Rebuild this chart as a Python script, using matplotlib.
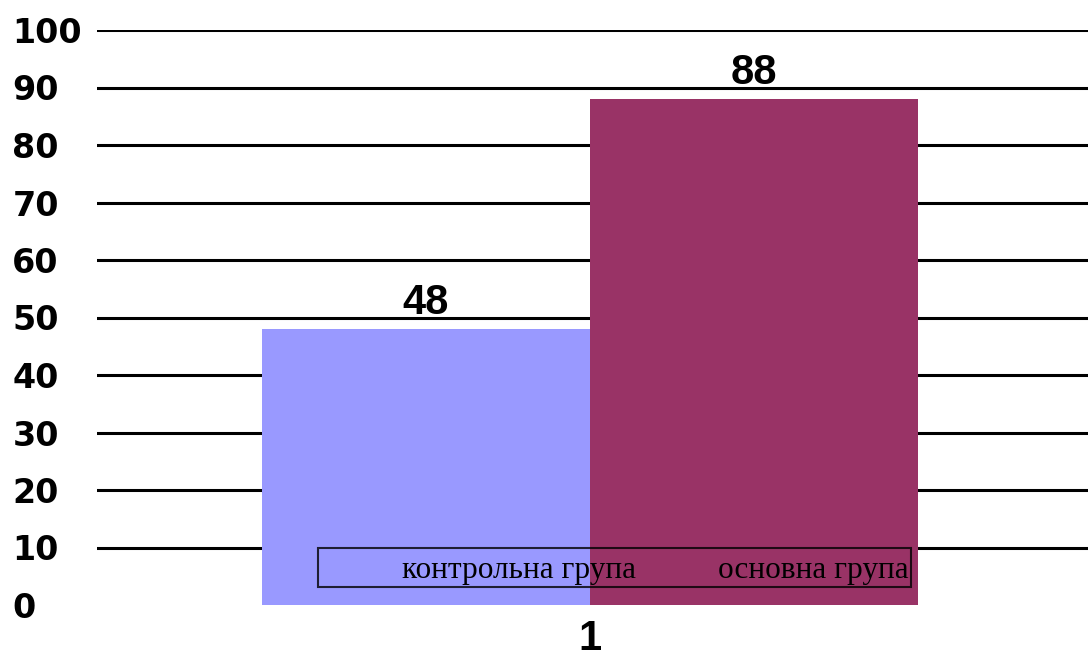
import numpy as np
import matplotlib
matplotlib.use("Agg")
import matplotlib.pyplot as plt

#//==\\--//==\\--//==\\--//==\\--//==\\--//==\\--//==\\--//==\\#

categories = ["1"]
groups     = ["контрольна група", "основна група"]
values     = [48, 88]
colors     = ["#9999FF", "#993366"]
yticks     = [0, 10, 20, 30, 40, 50, 60, 70, 80, 90, 100]

#//==\\--//==\\--//==\\--//==\\--//==\\--//==\\--//==\\--//==\\#

fig = plt.figure(figsize=(10.88, 6.62), dpi=100)
ax  = fig.add_axes([97/1088, 1-605/662, 991/1088, 575/662])

x     = np.arange(len(categories))
width = 0.331

# gridlines behind the bars
ax.set_axisbelow(True)
ax.yaxis.grid(True, color="black", linewidth=2.2)

for i, (grp, val, col) in enumerate(zip(groups, values, colors)):
    pos  = x + (i - 0.5) * width
    bars = ax.bar(pos, [val], width, color=col, label=grp, zorder=2)
    ax.annotate(str(val), (pos[0], val), xytext=(0, 4), textcoords="offset points",
                ha="center", va="bottom", fontsize=30, fontweight="bold",
                family="Liberation Sans", zorder=5)

ax.set_xlim(-0.4975, 0.5025)
ax.set_ylim(0, 100)
ax.set_yticks(yticks)
ax.set_xticks(x)
ax.set_xticklabels(categories, fontsize=30, fontweight="bold", family="Liberation Sans")
ax.tick_params(axis="x", length=0, pad=10)
ax.tick_params(axis="y", length=0, pad=61)
for lab in ax.get_yticklabels():
    lab.set_ha("left")
    lab.set_fontsize(24)
    lab.set_fontweight("bold")

# no gridline at zero
ax.yaxis.get_gridlines()[0].set_visible(False)

for s in ax.spines.values():
    s.set_visible(False)

# legend box sits inside the plot, no fill (handles vanish into the bars)
leg = ax.legend(loc="lower left", bbox_to_anchor=(0.223, 0.031),
                ncol=2, borderaxespad=0, fancybox=False,
                frameon=True, prop={"family": "Liberation Serif", "size": 22.5},
                handlelength=1.85, handleheight=1.3, handletextpad=0.76,
                borderpad=0.08, columnspacing=0.0)
leg.get_frame().set_facecolor("none")
leg.get_frame().set_edgecolor("black")
leg.get_frame().set_linewidth(1.5)
leg.set_zorder(6)

fig.savefig("out.png", dpi=100)
